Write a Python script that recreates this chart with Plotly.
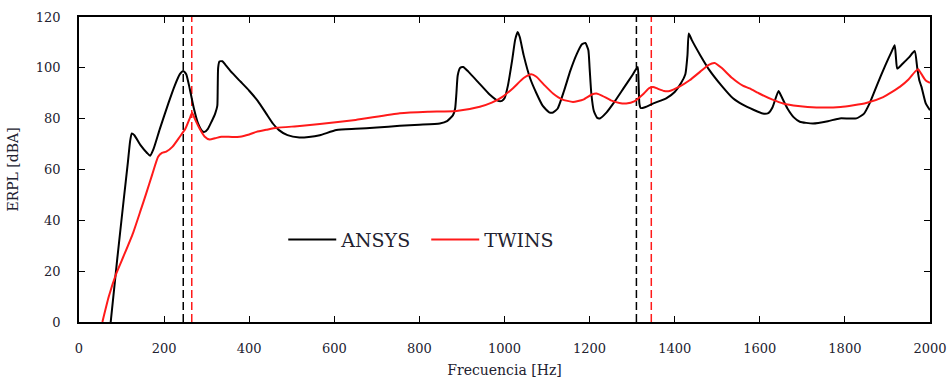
import plotly.graph_objects as go

# ERPL spectra (frequency in Hz, level in dBA)
ansys_freq = [74.5, 90, 105, 115, 120, 124, 130, 145, 160, 167, 175, 190, 210, 225, 237, 245, 252, 260,
              270, 280, 290, 295, 303, 312, 320, 325, 326, 327, 330, 337, 345, 360, 380, 400, 420, 440,
              456, 470, 490, 518, 540, 566, 605, 650, 700, 754, 800, 848, 865, 879, 884, 887, 890, 896,
              903, 915, 940, 965, 985, 994, 1000, 1008, 1018, 1025, 1031, 1036, 1045, 1060, 1075, 1090,
              1105, 1114, 1125, 1140, 1155, 1170, 1182, 1190, 1197, 1200, 1204, 1210, 1218, 1224, 1240,
              1260, 1280, 1300, 1313, 1315, 1317, 1320, 1330, 1350, 1380, 1400, 1415, 1425, 1430, 1433,
              1440, 1460, 1482, 1510, 1537, 1560, 1585, 1607, 1620, 1630, 1644, 1650, 1665, 1680, 1694,
              1725, 1760, 1788, 1827, 1845, 1858, 1875, 1895, 1910, 1917, 1920, 1923, 1935, 1950, 1964,
              1970, 1975, 1980, 1990, 2000]
ansys_erpl = [0, 25, 48, 63, 71, 74.2, 73.5, 69.5, 66.5, 65.4, 68, 76, 86, 93, 97.5, 98.8, 97.5, 92,
              84, 78, 75, 74.8, 76, 79, 82, 85, 92, 100, 102.5, 102.6, 101, 98, 94.5, 91, 87, 82,
              78, 75.5, 73.5, 72.6, 72.8, 73.5, 75.5, 76, 76.5, 77.2, 77.6, 78.1, 79, 81.4, 84, 90, 97, 100,
              100.3, 98.5, 94, 89.5, 87, 87, 88, 93, 103, 111, 114.1, 112, 105, 96, 90, 85,
              82.5, 82.4, 84, 91, 99, 105.5, 109.3, 109.8, 107, 100, 90, 83, 80.3, 80.1, 82.5,
              87, 92, 97, 100.3, 95, 86, 84.2, 84.5, 86, 88, 90.5, 94, 97.5, 105, 113.5,
              111, 105, 99, 93, 88, 85.5, 83.5, 82, 82.2, 84.5, 90.9, 89, 84, 80.5, 78.8,
              78.1, 79, 80.1, 80.1, 82, 86, 93, 101, 106.5, 108.9, 104, 99.7, 101.5, 104, 106.6,
              100, 95, 92.5, 86, 83.3]

twins_freq = [55, 70, 88, 105, 127, 145, 158, 172, 186, 195, 205, 220, 237, 250, 260, 266, 272, 283,
              295, 307, 320, 335, 360, 378, 400, 417, 440, 464, 519, 566, 650, 754, 820, 887, 942, 970,
              996, 1020, 1045, 1063, 1075, 1095, 1114, 1135, 1161, 1185, 1205, 1216, 1230, 1250, 1270,
              1286, 1305, 1325, 1340, 1349, 1360, 1375, 1388, 1410, 1435, 1460, 1480, 1494, 1510, 1535,
              1560, 1576, 1600, 1630, 1655, 1690, 1733, 1790, 1850, 1890, 1929, 1950, 1965, 1972, 1980,
              1990, 2000]
twins_erpl = [0, 10, 19.2, 26, 35, 44, 50.6, 58, 65, 66.5, 67, 69, 72.9, 76, 80, 82.3, 80, 76.2,
              73, 71.8, 72.3, 72.9, 72.8, 72.9, 73.8, 74.8, 75.6, 76.4, 77.1, 77.9, 79.5, 82.1, 82.7, 83, 84.7, 86.3,
              88.7, 92, 96, 97.5, 96.5, 93, 89.9, 87.6, 86.6, 87.5, 89.5, 89.9, 89, 87.2, 86.2,
              86, 86.8, 89.5, 92, 92.5, 91.8, 90.9, 90.9, 92.5, 95.1, 98.5, 101.2, 101.9, 100, 96,
              93, 91.9, 89.8, 87.5, 86, 85, 84.4, 84.6, 86.2, 88.5, 92.5, 95.5, 98.5, 99.4, 97.5,
              95, 94.1]

# Reference frequencies marked with dashed lines
ansys_marks = [245, 1310]
twins_marks = [265, 1345]
y_span = [0, 120]

FONT = "DejaVu Serif"
TEXT = "#222230"

fig = go.Figure()

for f in ansys_marks:
    fig.add_trace(go.Scatter(x=[f, f], y=y_span, mode="lines", showlegend=False, hoverinfo="skip",
                             line=dict(color="black", width=1.5, dash="8px,4px")))
for f in twins_marks:
    fig.add_trace(go.Scatter(x=[f, f], y=y_span, mode="lines", showlegend=False, hoverinfo="skip",
                             line=dict(color="#ff1a1a", width=1.5, dash="8px,4px")))

fig.add_trace(go.Scatter(x=ansys_freq, y=ansys_erpl, mode="lines", name="ANSYS",
                         line=dict(color="black", width=2, shape="spline", smoothing=0.5)))
fig.add_trace(go.Scatter(x=twins_freq, y=twins_erpl, mode="lines", name="TWINS",
                         line=dict(color="#ff1a1a", width=2, shape="spline", smoothing=0.5)))

axis_common = dict(showline=True, linecolor="black", linewidth=1.5, mirror="ticks",
                   ticks="inside", ticklen=6, tickwidth=1.2, tickcolor="black",
                   showgrid=False, zeroline=False, automargin=False,
                   tickfont=dict(family=FONT, size=13, color=TEXT))

fig.update_layout(
    width=949, height=382,
    margin=dict(l=79, r=19, t=17, b=60),
    paper_bgcolor="white", plot_bgcolor="white",
    font=dict(family=FONT, color=TEXT),
    xaxis=dict(range=[0, 2000], dtick=200, tick0=0, ticklabelstandoff=14,
               title=dict(text="Frecuencia [Hz]", font=dict(family=FONT, size=14, color=TEXT), standoff=10),
               **axis_common),
    yaxis=dict(range=[0, 120], dtick=20, tick0=0, ticklabelstandoff=14,
               title=dict(text="ERPL [dBA]", font=dict(family=FONT, size=14, color=TEXT), standoff=14),
               **axis_common),
    legend=dict(orientation="h", x=0.24, y=0.27, xanchor="left", yanchor="middle",
                bgcolor="rgba(0,0,0,0)", font=dict(family=FONT, size=19, color=TEXT),
                itemwidth=48, entrywidth=80, entrywidthmode="pixels"),
    showlegend=True,
)

fig.write_html("out.html")
